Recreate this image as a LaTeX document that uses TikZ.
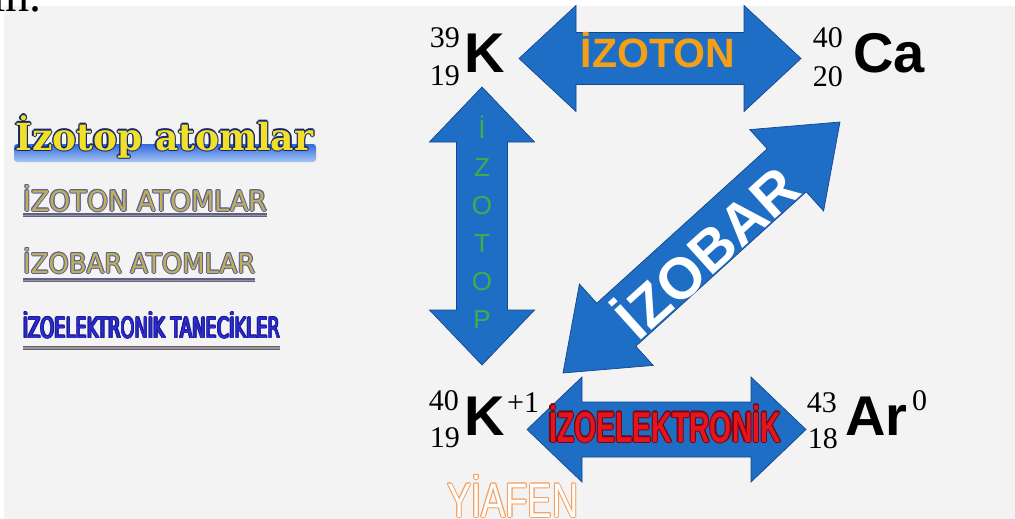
\documentclass[tikz,border=0pt]{standalone}
\usepackage{fontspec}
\usepackage{graphicx}
\setmainfont{Liberation Serif}
\newfontfamily\arial{Liberation Sans}
\newfontfamily\arialnarrow[FakeStretch=0.66]{Liberation Sans}
\newfontfamily\dejasans{DejaVu Sans}
\newfontfamily\dejaserif{DejaVu Serif}
\newcommand\symfont{\arial\bfseries\fontsize{56}{60}\selectfont}
\newcommand\numfont{\fontsize{30}{32}\selectfont}

\definecolor{paper}{RGB}{243,243,243}
\definecolor{arrowblue}{RGB}{31,110,198}
\definecolor{arrowedge}{RGB}{20,70,140}
\definecolor{izoorange}{RGB}{245,160,20}
\definecolor{izogreen}{RGB}{60,175,75}
\definecolor{elekred}{RGB}{230,20,30}
\definecolor{elekedge}{RGB}{110,10,20}
\definecolor{navyedge}{RGB}{25,40,110}
\definecolor{linkyellow}{RGB}{240,225,40}
\definecolor{bandtop}{RGB}{50,105,220}
\definecolor{bandbot}{RGB}{165,198,245}
\definecolor{khaki}{RGB}{190,175,90}
\definecolor{slate}{RGB}{95,95,150}
\definecolor{linkblue}{RGB}{45,45,210}
\definecolor{linkblueedge}{RGB}{25,25,150}
\definecolor{lineolive}{RGB}{160,155,110}
\definecolor{wmorange}{RGB}{245,160,95}

\begin{document}
\begin{tikzpicture}[x=1pt,y=-1pt]
    \tikzset{sym/.style = {font=\symfont, inner sep=0pt, anchor=base west}}
    \tikzset{num/.style = {font=\numfont, inner sep=0pt, anchor=base east}}
    \tikzset{chg/.style = {font=\numfont, inner sep=0pt, anchor=base west}}
    \tikzset{blockarrow/.style = {fill=arrowblue, draw=arrowedge, line width=0.7pt}}
    \tikzset{link/.style = {inner sep=0pt, anchor=base west}}
    \tikzset{elek/.style = {inner sep=0pt, anchor=base, font=\arialnarrow\bfseries\fontsize{43}{46}\selectfont}}

    \useasboundingbox (0,0) rectangle (1015,519);
    \fill[white] (0,0) rectangle (1015,519);
    \fill[paper] (4,6) rectangle (1015,519);

    \node[inner sep=0pt, anchor=base west, font=\fontsize{48}{50}\selectfont] (prev) at (-8,12) {in.};

    % atoms

    \node[sym] (k39) at (464,73) {K};
    \node[num] (k39a) at (460,48) {39};
    \node[num] (k39z) at (460,85) {19};

    \node[sym] (ca40) at (853,73) {Ca};
    \node[num] (ca40a) at (843,48) {40};
    \node[num] (ca40z) at (843,87) {20};

    \node[sym] (k40) at (464,435) {K};
    \node[num] (k40a) at (459,410) {40};
    \node[num] (k40z) at (460,447) {19};
    \node[chg] (k40c) at (507,412) {+1};

    \node[sym] (ar43) at (845,435) {Ar};
    \node[num] (ar43a) at (837,412) {43};
    \node[num] (ar43z) at (838,448) {18};
    \node[chg] (ar43c) at (912,410) {0};

    % block arrows

    \filldraw[blockarrow] (519,58.5) -- (576,5.5) -- (576,32.5) -- (744,32.5) -- (744,5.5) -- (801,58.5)
        -- (744,111.5) -- (744,84.5) -- (576,84.5) -- (576,111.5) -- cycle;
    \filldraw[blockarrow] (482,87) -- (534.5,142) -- (507.5,142) -- (507.5,310) -- (534.5,310) -- (482,365)
        -- (429.5,310) -- (456.5,310) -- (456.5,142) -- (429.5,142) -- cycle;
    \filldraw[blockarrow] (563,373) -- (579.4,284) -- (596.8,303.2) -- (767.2,148.8) -- (749.8,129.6) -- (840,122)
        -- (823.6,211) -- (806.2,191.8) -- (635.8,346.2) -- (653.2,365.4) -- cycle;
    \filldraw[blockarrow] (527,429.5) -- (582,377) -- (582,402) -- (751,402) -- (751,377) -- (806,429.5)
        -- (751,482) -- (751,457) -- (582,457) -- (582,482) -- cycle;

    \node[inner sep=0pt, anchor=base, text=izoorange, font=\arial\bfseries\fontsize{41}{44}\selectfont] (izoton) at (658,67) {İZOTON};
    \foreach \l [count=\i] in {İ,Z,O,T,O,P}
        \node[inner sep=0pt, anchor=base, text=izogreen, font=\arial\fontsize{26}{28}\selectfont] (izotop\i) at (482,100+38*\i) {\l};
    \node[inner sep=0pt, rotate=42, text=white, font=\arial\bfseries\fontsize{58}{60}\selectfont] (izobar) at (705,250) {İZOBAR};
    \foreach \a in {0,45,...,315}
        \node[elek, text=elekedge, shift={(\a:1.2)}] at (665,442) {İZOELEKTRONİK};
    \node[elek, text=elekred] (izoelek) at (665,442) {İZOELEKTRONİK};

    % links on the left

    \shade[top color=bandtop, bottom color=bandbot, rounded corners=3pt] (14,144) rectangle (316,162);
    \foreach \a in {0,45,...,315}
        \node[link, text=navyedge, shift={(\a:1.3)}] at (15,150) {\resizebox{298pt}{35pt}{\dejaserif\bfseries İzotop atomlar}};
    \node[link, text=linkyellow] (izotoplink) at (15,150) {\resizebox{298pt}{35pt}{\dejaserif\bfseries İzotop atomlar}};

    \foreach \a in {0,45,...,315}
        \node[link, text=slate, shift={(\a:1)}] at (23,211) {\resizebox{244pt}{26pt}{\dejasans İZOTON ATOMLAR}};
    \node[link, text=khaki] (izotonlink) at (23,211) {\resizebox{244pt}{26pt}{\dejasans İZOTON ATOMLAR}};
    \draw[slate, line width=3.5pt] ([yshift=-4pt]izotonlink.base west) -- ([yshift=-4pt]izotonlink.base east);
    \draw[lineolive, line width=1pt] ([yshift=-4pt]izotonlink.base west) -- ([yshift=-4pt]izotonlink.base east);

    \foreach \a in {0,45,...,315}
        \node[link, text=slate, shift={(\a:1)}] at (23,273) {\resizebox{232pt}{25pt}{\dejasans İZOBAR ATOMLAR}};
    \node[link, text=khaki] (izobarlink) at (23,273) {\resizebox{232pt}{25pt}{\dejasans İZOBAR ATOMLAR}};
    \draw[slate, line width=3.5pt] ([yshift=-7pt]izobarlink.base west) -- ([yshift=-7pt]izobarlink.base east);
    \draw[lineolive, line width=1pt] ([yshift=-7pt]izobarlink.base west) -- ([yshift=-7pt]izobarlink.base east);

    \foreach \a in {0,45,...,315}
        \node[link, text=linkblueedge, shift={(\a:0.8)}] at (23,338) {\resizebox{257pt}{26pt}{\dejasans İZOELEKTRONİK TANECİKLER}};
    \node[link, text=linkblue] (izoeleklink) at (23,338) {\resizebox{257pt}{26pt}{\dejasans İZOELEKTRONİK TANECİKLER}};
    \draw[slate, line width=3.5pt] ([yshift=-10pt]izoeleklink.base west) -- ([yshift=-10pt]izoeleklink.base east);
    \draw[lineolive, line width=1.2pt] ([yshift=-10pt]izoeleklink.base west) -- ([yshift=-10pt]izoeleklink.base east);

    % watermark
    \foreach \a in {0,45,...,315}
        \node[link, text=wmorange, shift={(\a:1)}] at (447,517) {\resizebox{131pt}{42pt}{\arial YİAFEN}};
    \node[link, text=white] (yiafen) at (447,517) {\resizebox{131pt}{42pt}{\arial YİAFEN}};
\end{tikzpicture}
\end{document}
